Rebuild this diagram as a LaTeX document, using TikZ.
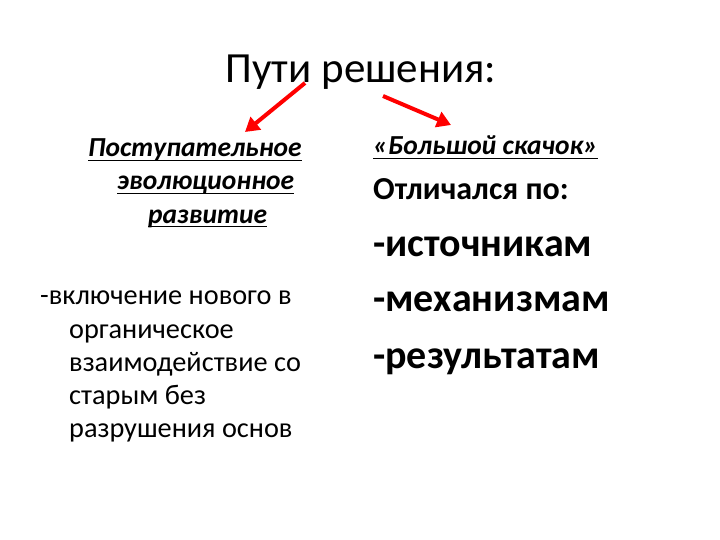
\documentclass[tikz,border=0pt]{standalone}
\usepackage{fontspec}
\setmainfont{Carlito}
\usetikzlibrary{arrows.meta}
\begin{document}
\begin{tikzpicture}[x=1pt, y=-1pt,
  txt/.style={anchor=base west, inner sep=0pt},
  head/.style={txt, font=\fontsize{27.5}{32}\selectfont\bfseries\itshape},
  body/.style={txt, font=\fontsize{28.3}{32}\selectfont},
  item/.style={txt, font=\fontsize{40}{46}\selectfont\bfseries},
  pointer/.style={draw=red, line width=4pt, -{Triangle[length=14pt, width=16pt]}}]
\useasboundingbox[fill=white] (0,0) rectangle (720,540);
\node [anchor=base, inner sep=0pt, font=\fontsize{43}{48}\selectfont] (title) at (361,83) {Пути решения:};
% left column
\node [head] (l1) at (88,157) {Поступательное};
\node [head] (l2) at (117,190) {эволюционное};
\node [head] (l3) at (148,223) {развитие};
\node [body] (b1) at (40,304) {-включение нового в};
\node [body] (b2) at (69,338) {органическое};
\node [body] (b3) at (69,371) {взаимодействие со};
\node [body] (b4) at (69,404) {старым без};
\node [body] (b5) at (69,437) {разрушения основ};
% right column
\node [head] (r1) at (373,155) {«Большой скачок»};
\node [txt, font=\fontsize{32}{36}\selectfont\bfseries] (r2) at (373,200) {Отличался по:};
\node [item] (r3) at (373,256) {-источникам};
\node [item] (r4) at (373,311) {-механизмам};
\node [item] (r5) at (373,368) {-результатам};
% underlines
\foreach \n in {l1,l2,l3,r1}
  \draw [line width=1.8pt] ([yshift=-3.5pt]\n.base west) -- ([yshift=-3.5pt]\n.base east);
% arrows
\coordinate (la) at (305,83);
\coordinate (lb) at (245,132);
\coordinate (ra) at (383,96);
\coordinate (rb) at (451,125);
\draw [pointer] (la) -- (lb);
\draw [pointer] (ra) -- (rb);
\end{tikzpicture}
\end{document}
